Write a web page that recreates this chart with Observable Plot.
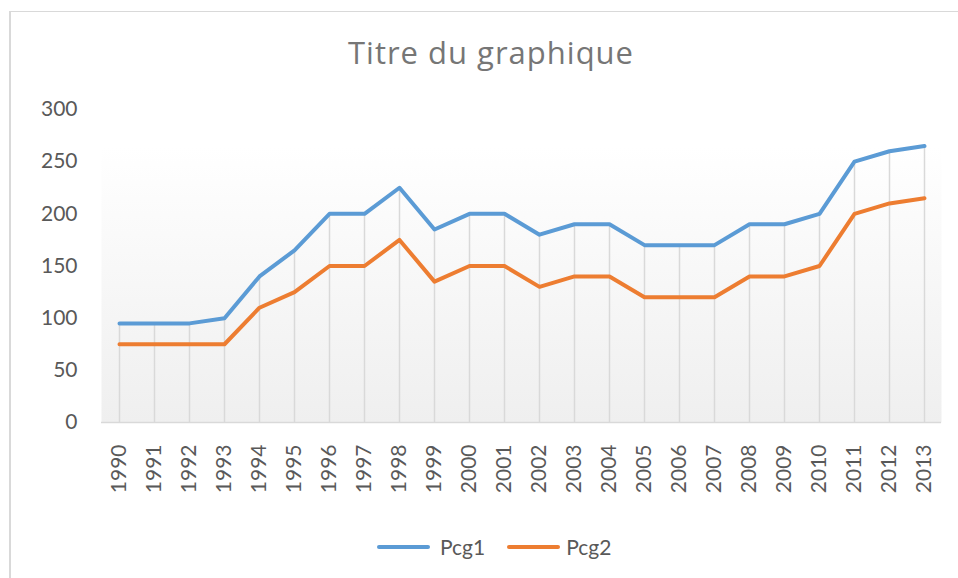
<!DOCTYPE html>
<html>
<head>
<meta charset="utf-8">
<script src="https://cdn.jsdelivr.net/npm/d3@7"></script>
<script src="https://cdn.jsdelivr.net/npm/@observablehq/plot@0.6"></script>
<style>
  html, body { margin: 0; padding: 0; background: #fff; }
  #wrap { position: relative; width: 958px; height: 578px; overflow: hidden; font-family: Lato, "Open Sans", sans-serif; }
  #border { position: absolute; left: 9px; top: 11px; width: 1000px; height: 700px; border-top: 1.5px solid #d9d9d9; border-left: 2px solid #d9d9d9; }
  #title { position: absolute; left: 348px; top: 31px; white-space: nowrap; font-family: "Open Sans", Lato, sans-serif; font-size: 31px; letter-spacing: 1px; color: #767676; line-height: 42px; }
  #chart { position: absolute; left: 0; top: 80px; }
  #legend { position: absolute; left: 377px; top: 534px; display: flex; align-items: center; font-size: 21px; color: #595959; }
  .sw { display: inline-block; width: 53px; height: 4px; border-radius: 2px; }
</style>
</head>
<body>
<div id="wrap">
  <div id="border"></div>
  <div id="title">Titre du graphique</div>
  <div id="chart"></div>
  <div id="legend"></div>
</div>
<script>
const years = ["1990","1991","1992","1993","1994","1995","1996","1997","1998","1999","2000","2001","2002","2003","2004","2005","2006","2007","2008","2009","2010","2011","2012","2013"];
const pcg1 = [95,95,95,100,140,165,200,200,225,185,200,200,180,190,190,170,170,170,190,190,200,250,260,265];
const pcg2 = [75,75,75,75,110,125,150,150,175,135,150,150,130,140,140,120,120,120,140,140,150,200,210,215];
const yTicks = [0,50,100,150,200,250,300];
const seriesNames = ["Pcg1","Pcg2"];
const seriesColors = ["#5B9BD5","#ED7D31"];

const rows = years.map((y, i) => ({year: y, p1: pcg1[i], p2: pcg2[i]}));

const chart = Plot.plot({
  width: 958,
  height: 420,
  marginLeft: 101,
  marginRight: 17,
  marginTop: 29,
  marginBottom: 78,
  style: {fontFamily: "Lato, 'Open Sans', sans-serif", fontSize: "21px", color: "#595959", background: "transparent"},
  x: {type: "point", domain: years, padding: 0.5, tickRotate: -90, tickSize: 0, tickPadding: 22, label: null},
  y: {domain: [0, 300], ticks: yTicks, tickSize: 0, tickPadding: 24, label: null},
  marks: [
    Plot.frame({fill: "url(#bggrad)", stroke: "none"}),
    Plot.ruleX(rows, {x: "year", y1: 0, y2: d => Math.max(d.p1, d.p2), stroke: "#d9d9d9", strokeWidth: 1.5}),
    Plot.ruleY([0], {stroke: "#d9d9d9", strokeWidth: 1.5}),
    Plot.line(rows, {x: "year", y: "p1", stroke: seriesColors[0], strokeWidth: 4, strokeLinejoin: "round", strokeLinecap: "round"}),
    Plot.line(rows, {x: "year", y: "p2", stroke: seriesColors[1], strokeWidth: 4, strokeLinejoin: "round", strokeLinecap: "round"})
  ]
});

const ns = "http://www.w3.org/2000/svg";
const defs = document.createElementNS(ns, "defs");
defs.innerHTML = '<linearGradient id="bggrad" x1="0" y1="0" x2="0" y2="1">' +
  '<stop offset="0" stop-color="#ffffff"/><stop offset="0.12" stop-color="#ffffff"/>' +
  '<stop offset="1" stop-color="#efefef"/></linearGradient>';
chart.insertBefore(defs, chart.firstChild);
document.getElementById("chart").appendChild(chart);

const legend = document.getElementById("legend");
seriesNames.forEach((name, i) => {
  const sw = document.createElement("span");
  sw.className = "sw";
  sw.style.background = seriesColors[i];
  sw.style.marginRight = i === 0 ? "10px" : "6px";
  const t = document.createElement("span");
  t.textContent = name;
  t.style.marginRight = i === 0 ? "22px" : "0";
  legend.appendChild(sw);
  legend.appendChild(t);
});
</script>
</body>
</html>
